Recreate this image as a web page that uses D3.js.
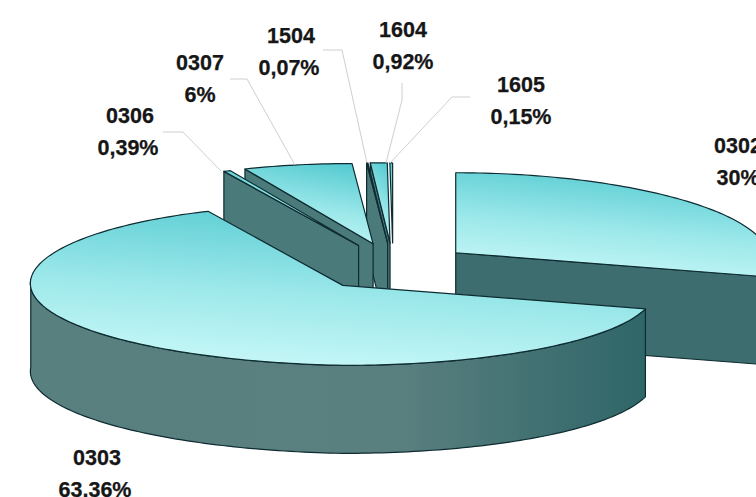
<!DOCTYPE html>
<html>
<head>
<meta charset="utf-8">
<script src="https://cdn.jsdelivr.net/npm/d3@7/dist/d3.min.js"></script>
<style>
  html, body { margin: 0; padding: 0; background: #fff; overflow: hidden; }
  text { font-family: "Liberation Sans", Arial, sans-serif; font-weight: bold; font-size: 21.5px; fill: #161616; stroke: #161616; stroke-width: 0.25px; }
</style>
</head>
<body>
<div id="chart"></div>
<script>
// slice values as printed on the chart, clockwise from 12 o'clock
const codes = ["0302", "0303", "0306", "0307", "1504", "1604", "1605"];
const shares = [30, 63.36, 0.39, 6, 0.07, 0.92, 0.15];
const shareLabels = ["30%", "63,36%", "0,39%", "6%", "0,07%", "0,92%", "0,15%"];

// label placement: centre x, first baseline, second line x shift
const labelPos = [[738, 153, 0], [97, 465, -2], [130, 123, -2], [200, 70, 0], [291, 43, -2], [403, 37, 0], [521, 92, 0]];
// leader lines, label end to slice
const leaders = [
  null, null,
  [[163, 132], [183, 132], [221, 171]],
  [[230, 79], [247, 79], [295, 165]],
  [[323, 50], [342, 50], [367, 163]],
  [[402, 83], [402, 100], [386, 163]],
  [[470, 97], [452, 97], [390, 163]]
];

const width = 756, height = 497;
const cx = 393, cy = 267, rx = 312, ry = 80, depth = 88;
const explodeX = 0.25, explodeY = 0.3;
const narrowing = 0.05; // back of the pie is drawn a bit narrower
const tilt = 6;         // left side sits a bit higher

const svg = d3.select("#chart").append("svg")
  .attr("width", width).attr("height", height).style("display", "block");

const defs = svg.append("defs");
const topGrad = defs.append("linearGradient").attr("id", "topGrad")
  .attr("x1", 0.65).attr("y1", 0).attr("x2", 0.38).attr("y2", 1);
topGrad.append("stop").attr("offset", 0).attr("stop-color", "#58ccd2");
topGrad.append("stop").attr("offset", 0.55).attr("stop-color", "#9ce8ea");
topGrad.append("stop").attr("offset", 1).attr("stop-color", "#c6f7f7");
const wallGrad = defs.append("linearGradient").attr("id", "wallGrad")
  .attr("x1", 0).attr("y1", 0).attr("x2", 1).attr("y2", 0);
wallGrad.append("stop").attr("offset", 0).attr("stop-color", "#58807f");
wallGrad.append("stop").attr("offset", 0.6).attr("stop-color", "#5a7f7f");
wallGrad.append("stop").attr("offset", 1).attr("stop-color", "#2f6668");

const slices = d3.pie().sort(null)(shares);
const line = d3.line();

function project(s) {
  const mid = (s.startAngle + s.endAngle) / 2;
  const ax = cx + explodeX * rx * Math.sin(mid);
  const ay = cy - explodeY * ry * Math.cos(mid);
  return (a, r = 1, z = 0) => {
    const sin = Math.sin(a), cos = Math.cos(a);
    return [
      ax + r * rx * sin * (1 - narrowing * cos),
      ay - r * ry * cos + r * tilt * Math.min(0, sin) + z
    ];
  };
}

function arcPoints(p, a0, a1, z) {
  const n = Math.max(2, Math.ceil((a1 - a0) / 0.02));
  return d3.range(n + 1).map(i => p(a0 + (a1 - a0) * i / n, 1, z));
}

const g = svg.append("g");
const stroke = "#0d2b31";

function drawSlice(i) {
  const s = slices[i], p = project(s);
  const a0 = s.startAngle, a1 = s.endAngle;
  const sg = g.append("g").attr("stroke", stroke).attr("stroke-width", 1.2).attr("stroke-linejoin", "round");

  // radial walls that face the viewer
  if (Math.sin(a1) > 0.01) {
    sg.append("path").attr("fill", "#3d6d6e")
      .attr("d", line([p(a1, 0), p(a1), p(a1, 1, depth), p(a1, 0, depth)]) + "Z");
  }
  if (Math.sin(a0) < -0.01) {
    sg.append("path").attr("fill", "#4a7a7a")
      .attr("d", line([p(a0, 0), p(a0), p(a0, 1, depth), p(a0, 0, depth)]) + "Z");
  }
  // outer rim, front half only
  const r0 = Math.max(a0, Math.PI / 2), r1 = Math.min(a1, 3 * Math.PI / 2);
  if (r1 > r0) {
    const rim = arcPoints(p, r0, r1, 0).concat(arcPoints(p, r0, r1, depth).reverse());
    sg.append("path").attr("fill", "url(#wallGrad)").attr("d", line(rim) + "Z");
  }
  // top face
  const top = [p(a0, 0)].concat(arcPoints(p, a0, a1, 0));
  sg.append("path").attr("fill", "url(#topGrad)").attr("d", line(top) + "Z");
}

// back to front
[0, 6, 5, 4, 3, 2, 1].forEach(drawSlice);

// leader lines
svg.append("g").selectAll("path")
  .data(leaders.filter(d => d))
  .join("path")
  .attr("d", d => line(d))
  .attr("fill", "none").attr("stroke", "#cfcfcf").attr("stroke-width", 1);

// labels
const lab = svg.append("g").selectAll("text")
  .data(codes)
  .join("text")
  .attr("text-anchor", "middle");
lab.append("tspan")
  .attr("x", (d, i) => labelPos[i][0])
  .attr("y", (d, i) => labelPos[i][1])
  .text(d => d);
lab.append("tspan")
  .attr("x", (d, i) => labelPos[i][0] + labelPos[i][2])
  .attr("y", (d, i) => labelPos[i][1] + 32)
  .text((d, i) => shareLabels[i]);
</script>
</body>
</html>
